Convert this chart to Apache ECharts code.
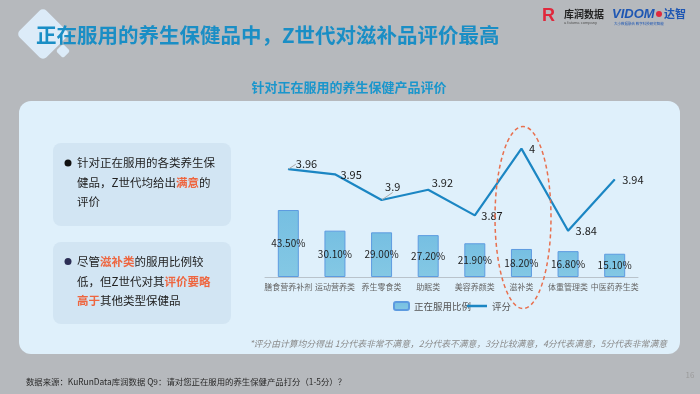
<!DOCTYPE html>
<html><head><meta charset="utf-8">
<script src="https://cdn.jsdelivr.net/npm/echarts/dist/echarts.min.js"></script>
<style>html,body{margin:0;padding:0;background:#b6b9bd}#c{width:700px;height:394px}</style>
</head><body><div id="c"></div>
<script>
const categories = ['膳食营养补剂','运动营养类','养生零食类','助眠类','美容养颜类','滋补类','体重管理类','中医药养生类'];
const usageRate = [43.5, 30.1, 29.0, 27.2, 21.9, 18.2, 16.8, 15.1];
const scores = [3.96, 3.95, 3.9, 3.92, 3.87, 4, 3.84, 3.94];
const seriesNames = ['正在服用比例', '评分'];

const FONT = "'Noto Sans CJK SC', 'Noto Sans', sans-serif";
const labelOffsets = [[2,-5],[0,0],[-2,-13],[-2,-7],[1,0],[2,0],[2,0],[2,0]];
const leaderIdx = [0, 2];

const chart = echarts.init(document.getElementById('c'), null, {renderer: 'canvas'});

const lineData = scores.map((v, i) => leaderIdx.includes(i)
  ? {value: v, labelLine: {show: true, lineStyle: {color: '#a9a9a9', width: 1}}}
  : v);

const option = {
  backgroundColor: '#b6b9bd',
  textStyle: {fontFamily: FONT},
  animation: false,
  graphic: [
    {type: 'rect', z: -10, shape: {x: 19, y: 101, width: 661, height: 253, r: 12}, style: {fill: '#dff0fb'}},
    {type: 'rect', z: -9, shape: {x: 53, y: 143, width: 178, height: 83, r: 8}, style: {fill: '#d2e5f3'}},
    {type: 'rect', z: -9, shape: {x: 53, y: 242, width: 178, height: 82, r: 8}, style: {fill: '#d2e5f3'}},
    // title diamond
    {type: 'rect', z: -8, x: 43, y: 34, rotation: Math.PI / 4, shape: {x: -19, y: -19, width: 38, height: 38, r: 5}, style: {fill: '#dcebf8'}},
    {type: 'rect', z: -8, x: 63, y: 51, rotation: Math.PI / 4, shape: {x: -5, y: -5, width: 10, height: 10, r: 2}, style: {fill: '#dcebf8'}},
    {type: 'text', z: 5, x: 36, y: 35, style: {text: '正在服用的养生保健品中，Z世代对滋补品评价最高', fill: '#1a8ec5', font: 'bold 20.5px ' + FONT, textVerticalAlign: 'middle'}},
    // logos
    {type: 'text', z: 5, x: 542, y: 16, style: {text: 'R', fill: '#e0283c', font: 'bold 18px Arial', textVerticalAlign: 'middle'}},
    {type: 'text', z: 5, x: 564, y: 14, style: {text: '库润数据', fill: '#222', font: 'bold 10px ' + FONT, textVerticalAlign: 'middle'}},
    {type: 'text', z: 5, x: 564, y: 23, style: {text: 'a fatuma company', fill: '#555', font: '4px Arial', textVerticalAlign: 'middle'}},
    {type: 'text', z: 5, x: 612, y: 14, style: {text: 'VIDOM', fill: '#1d56b3', font: 'italic bold 13px Arial', textVerticalAlign: 'middle'}},
    {type: 'circle', z: 5, shape: {cx: 659, cy: 14, r: 3}, style: {fill: '#e0283c'}},
    {type: 'text', z: 5, x: 664, y: 14, style: {text: '达智', fill: '#1d56b3', font: 'bold 11px ' + FONT, textVerticalAlign: 'middle'}},
    {type: 'text', z: 5, x: 614, y: 24, style: {text: '大小数据融合 数字科技研究智能', fill: '#1d56b3', font: '3.5px ' + FONT, textVerticalAlign: 'middle'}},
    // subtitle
    {type: 'text', z: 5, x: 349, y: 87, style: {text: '针对正在服用的养生保健产品评价', fill: '#1a96cc', font: 'bold 13px ' + FONT, textAlign: 'center', textVerticalAlign: 'middle'}},
    // left bullets
    {type: 'circle', z: 5, shape: {cx: 68, cy: 163, r: 3.5}, style: {fill: '#111'}},
    {type: 'text', z: 5, x: 77, y: 153.3, style: {
      text: '针对正在服用的各类养生保\n健品，Z世代均给出{r|满意}的\n评价',
      fill: '#222', font: '11.5px ' + FONT, lineHeight: 19.4,
      rich: {r: {fill: '#ee6640', fontWeight: 'bold', fontSize: 11.5, lineHeight: 19.4, fontFamily: FONT}}}},
    {type: 'circle', z: 5, shape: {cx: 68, cy: 261.5, r: 3.5}, style: {fill: '#2c2e55'}},
    {type: 'text', z: 5, x: 77, y: 251.8, style: {
      text: '尽管{r|滋补类}的服用比例较\n低，但Z世代对其{r|评价要略}\n{r|高于}其他类型保健品',
      fill: '#222', font: '11.5px ' + FONT, lineHeight: 19.7,
      rich: {r: {fill: '#ee6640', fontWeight: 'bold', fontSize: 11.5, lineHeight: 19.7, fontFamily: FONT}}}},
    // highlight ellipse
    {type: 'ellipse', z: 100, shape: {cx: 523, cy: 217.5, rx: 28, ry: 91}, style: {fill: null, stroke: '#e8704f', lineWidth: 1.5, lineDash: [4, 3]}},
    // footnote
    {type: 'text', z: 5, x: 667, y: 344, style: {text: '*评分由计算均分得出 1分代表非常不满意，2分代表不满意，3分比较满意，4分代表满意，5分代表非常满意', fill: '#8a8a8a', font: 'italic 8.8px ' + FONT, textAlign: 'right', textVerticalAlign: 'middle'}},
    {type: 'text', z: 5, x: 26, y: 382, style: {text: '数据来源：KuRunData库润数据 Q9：请对您正在服用的养生保健产品打分（1-5分）？', fill: '#2a2a2a', font: '8.4px ' + FONT, textVerticalAlign: 'middle'}},
    {type: 'text', z: 5, x: 690, y: 375, style: {text: '16', fill: '#9a9a9a', font: '8px ' + FONT, textAlign: 'center', textVerticalAlign: 'middle'}}
  ],
  legend: [
    {data: [seriesNames[0]], left: 393, top: 300, padding: 0, itemWidth: 15, itemHeight: 8, itemGap: 4,
     textStyle: {fontSize: 9.5, color: '#555', fontFamily: FONT, lineHeight: 12}},
    {data: [{name: seriesNames[1], icon: 'rect'}], left: 467, top: 300, padding: 0, itemWidth: 20, itemHeight: 2.5, itemGap: 4,
     textStyle: {fontSize: 9.5, color: '#555', fontFamily: FONT, lineHeight: 12}}
  ],
  grid: {left: 265, right: 62, top: 123, bottom: 117},
  xAxis: {
    type: 'category', data: categories,
    axisLine: {lineStyle: {color: '#b9c3cb', width: 1}},
    axisTick: {show: false},
    axisLabel: {interval: 0, fontSize: 8, color: '#666', margin: 6, fontFamily: FONT}
  },
  yAxis: [
    {type: 'value', min: 0, max: 100, show: false, splitLine: {show: false}},
    {type: 'value', min: 3.75, max: 4.05, show: false, splitLine: {show: false}}
  ],
  series: [
    {
      name: seriesNames[0], type: 'bar', data: usageRate, barWidth: 21, yAxisIndex: 0,
      itemStyle: {
        color: new echarts.graphic.LinearGradient(0, 0, 0, 1, [{offset: 0, color: '#76bfe2'}, {offset: 1, color: '#84c8e4'}]),
        borderColor: '#5d9be0', borderWidth: 1
      },
      label: {show: true, position: 'inside', color: '#1e1e1e', fontSize: 10, fontFamily: FONT,
        formatter: p => p.value.toFixed(2) + '%'}
    },
    {
      name: seriesNames[1], type: 'line', data: lineData, yAxisIndex: 1,
      symbol: 'circle', symbolSize: 1,
      itemStyle: {color: '#1b86c3'},
      lineStyle: {color: '#1b86c3', width: 2.2},
      label: {show: true, position: 'right', distance: 5, color: '#1a1a1a', fontSize: 11, fontFamily: FONT},
      labelLayout: p => { const o = labelOffsets[p.dataIndex] || [0, 0]; return {dx: o[0], dy: o[1]}; }
    }
  ]
};
chart.setOption(option);
</script>
</body></html>
